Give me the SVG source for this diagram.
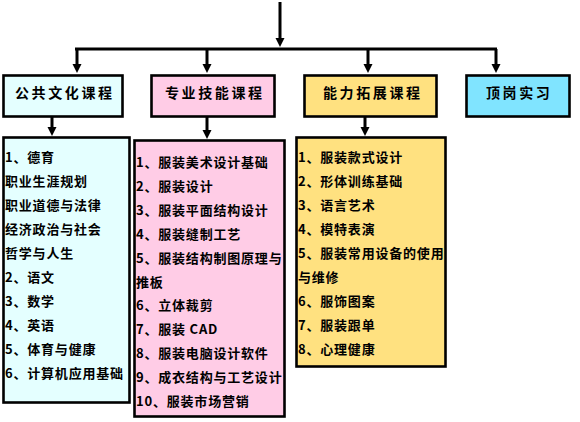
<svg xmlns="http://www.w3.org/2000/svg" width="580" height="422" viewBox="0 0 580 422">
<style>
.box{stroke:#000;stroke-width:2.6}
.hd{font-family:"Noto Sans CJK SC","Noto Sans CJK JP",sans-serif;font-weight:bold;font-size:14px;letter-spacing:2.6px;fill:#000}
.it{font-family:"Noto Sans CJK SC","Noto Sans CJK JP",sans-serif;font-weight:bold;font-size:13px;letter-spacing:0.8px;fill:#000}
.ln{stroke:#000;stroke-width:3;fill:none}
.c1{fill:#E4FFFF}.c2{fill:#FFCCE6}.c3{fill:#FFE180}.c4{fill:#80E4FF}
</style>
<defs>
<marker id="ah" markerUnits="userSpaceOnUse" markerWidth="10" markerHeight="10" refX="2" refY="4.5" orient="auto">
<path d="M0,0 L9,4.5 L0,9 Z" fill="#000"/>
</marker>
</defs>
<rect width="580" height="422" fill="#fff"/>
<g id="connectors">
<line class="ln" x1="280" y1="2" x2="280" y2="40" marker-end="url(#ah)"/>
<line class="ln" x1="75" y1="49" x2="497" y2="49"/>
<line class="ln" x1="77" y1="49" x2="77" y2="66" marker-end="url(#ah)"/>
<line class="ln" x1="207" y1="49" x2="207" y2="66" marker-end="url(#ah)"/>
<line class="ln" x1="368" y1="49" x2="368" y2="66" marker-end="url(#ah)"/>
<line class="ln" x1="496" y1="49" x2="496" y2="66" marker-end="url(#ah)"/>
<line class="ln" x1="52" y1="117" x2="52" y2="129" marker-end="url(#ah)"/>
<line class="ln" x1="207" y1="117" x2="207" y2="132" marker-end="url(#ah)"/>
<line class="ln" x1="365" y1="117" x2="365" y2="129" marker-end="url(#ah)"/>
</g>
<g id="h1"><rect class="box c1" x="3.5" y="75.5" width="119" height="41"/><text class="hd" x="15" y="98">公共文化课程</text></g>
<g id="h2"><rect class="box c2" x="151.5" y="75.5" width="123" height="41"/><text class="hd" x="165" y="98">专业技能课程</text></g>
<g id="h3"><rect class="box c3" x="304.5" y="75.5" width="132" height="41"/><text class="hd" x="323" y="98">能力拓展课程</text></g>
<g id="h4"><rect class="box c4" x="466.5" y="75.5" width="103" height="41"/><text class="hd" x="486" y="98">顶岗实习</text></g>
<g id="d1"><rect class="box c1" x="3.5" y="137.5" width="126" height="265"/>
<text class="it" x="5">
<tspan x="5" y="162">1、德育</tspan>
<tspan x="5" y="186">职业生涯规划</tspan>
<tspan x="5" y="210">职业道德与法律</tspan>
<tspan x="5" y="234">经济政治与社会</tspan>
<tspan x="5" y="258">哲学与人生</tspan>
<tspan x="5" y="282">2、语文</tspan>
<tspan x="5" y="306">3、数学</tspan>
<tspan x="5" y="330">4、英语</tspan>
<tspan x="5" y="354">5、体育与健康</tspan>
<tspan x="5" y="378">6、计算机应用基础</tspan>
</text></g>
<g id="d2"><rect class="box c2" x="134.5" y="140.5" width="150" height="276"/>
<text class="it" x="136">
<tspan x="136" y="167">1、服装美术设计基础</tspan>
<tspan x="136" y="191">2、服装设计</tspan>
<tspan x="136" y="215">3、服装平面结构设计</tspan>
<tspan x="136" y="239">4、服装缝制工艺</tspan>
<tspan x="136" y="263">5、服装结构制图原理与</tspan>
<tspan x="136" y="287">推板</tspan>
<tspan x="136" y="310">6、立体裁剪</tspan>
<tspan x="136" y="334">7、服装 CAD</tspan>
<tspan x="136" y="358">8、服装电脑设计软件</tspan>
<tspan x="136" y="382">9、成衣结构与工艺设计</tspan>
<tspan x="136" y="406">10、服装市场营销</tspan>
</text></g>
<g id="d3"><rect class="box c3" x="296.5" y="137.5" width="149" height="229"/>
<text class="it" x="298">
<tspan x="298" y="162">1、服装款式设计</tspan>
<tspan x="298" y="186">2、形体训练基础</tspan>
<tspan x="298" y="210">3、语言艺术</tspan>
<tspan x="298" y="234">4、模特表演</tspan>
<tspan x="298" y="258">5、服装常用设备的使用</tspan>
<tspan x="298" y="282">与维修</tspan>
<tspan x="298" y="306">6、服饰图案</tspan>
<tspan x="298" y="330">7、服装跟单</tspan>
<tspan x="298" y="354">8、心理健康</tspan>
</text></g>
</svg>
